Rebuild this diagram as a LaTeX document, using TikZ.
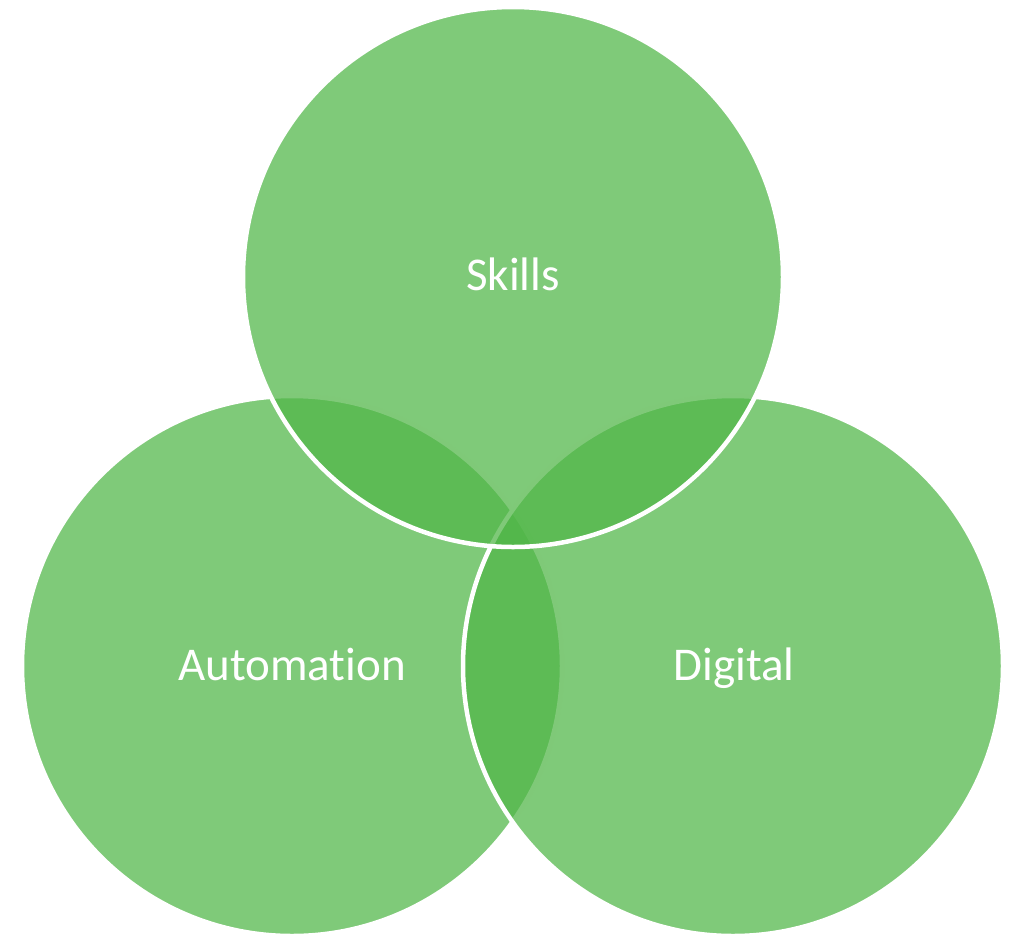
\documentclass[tikz,border=0pt]{standalone}
\usepackage{fontspec}
\setmainfont[Ligatures={NoCommon}]{Carlito}
\definecolor{vgreen}{RGB}{80,182,71}
\begin{document}
\begin{tikzpicture}[x=1pt,y=-1pt,
  venn/.style={circle, minimum size=540pt, inner sep=0pt, fill=vgreen, fill opacity=0.73, draw=white, line width=4.5pt},
  lbl/.style={text=white, font=\fontsize{47}{47}\selectfont, anchor=base}]
\useasboundingbox (0,0) rectangle (1018,935);
\node[venn] (auto) at (292,666) {};
\node[venn] (digi) at (733,666) {};
\node[venn] (skill) at (513,277) {};
\node[lbl] (tauto) at (292,680) {Automation};
\node[lbl] (tdigi) at (734,680) {Digital};
\node[lbl] (tskill) at (513,290) {Skills};
\end{tikzpicture}
\end{document}
